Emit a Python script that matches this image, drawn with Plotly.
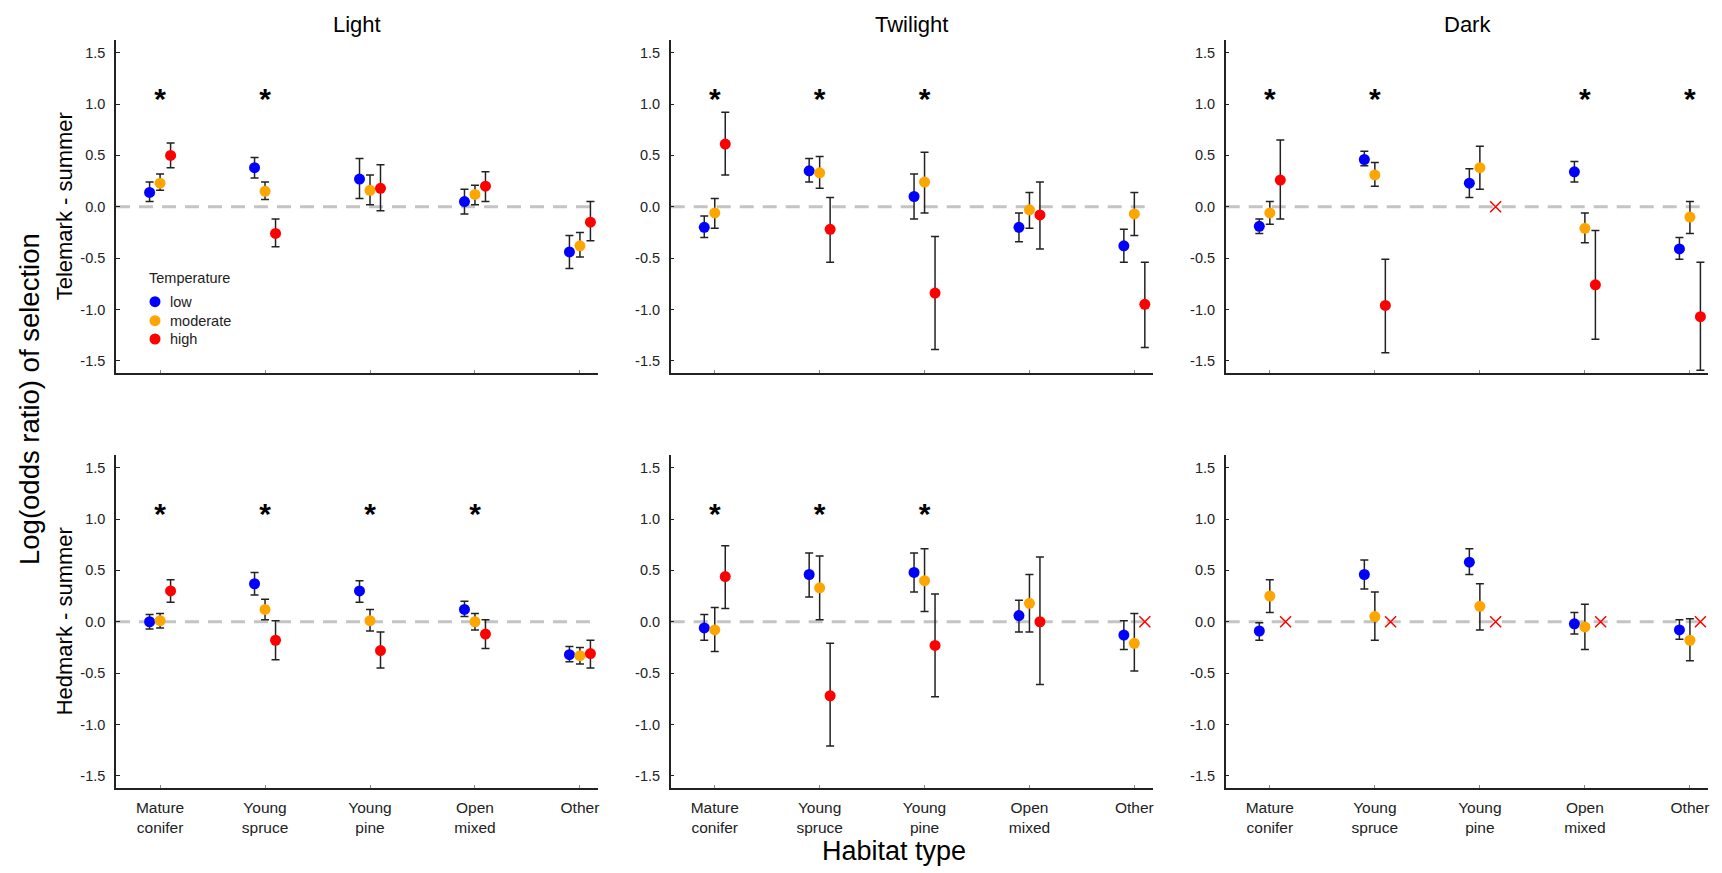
import plotly.graph_objects as go

# ---------------- data ----------------
categories = ["Mature<br>conifer", "Young<br>spruce", "Young<br>pine", "Open<br>mixed", "Other"]
light_levels = ["Light", "Twilight", "Dark"]
regions = ["Telemark - summer", "Hedmark - summer"]
temperatures = ["low", "moderate", "high"]
temp_colors = ["#0000ff", "#ffa500", "#ff0000"]
y_tick_vals = [-1.5, -1.0, -0.5, 0.0, 0.5, 1.0, 1.5]
y_tick_text = ["-1.5", "-1.0", "-0.5", "0.0", "0.5", "1.0", "1.5"]

# Telemark - Light
tel_light_low = [0.14, 0.38, 0.27, 0.05, -0.44]
tel_light_low_hi = [0.24, 0.48, 0.47, 0.17, -0.28]
tel_light_low_lo = [0.05, 0.28, 0.08, -0.07, -0.60]
tel_light_mod = [0.23, 0.15, 0.16, 0.12, -0.38]
tel_light_mod_hi = [0.32, 0.24, 0.31, 0.21, -0.25]
tel_light_mod_lo = [0.16, 0.07, 0.02, 0.02, -0.49]
tel_light_high = [0.50, -0.26, 0.18, 0.20, -0.15]
tel_light_high_hi = [0.62, -0.12, 0.41, 0.34, 0.05]
tel_light_high_lo = [0.38, -0.39, -0.04, 0.05, -0.33]
tel_light_sig = [1, 1, 0, 0, 0]

# Telemark - Twilight
tel_twi_low = [-0.20, 0.35, 0.10, -0.20, -0.38]
tel_twi_low_hi = [-0.09, 0.47, 0.32, -0.06, -0.22]
tel_twi_low_lo = [-0.30, 0.24, -0.12, -0.34, -0.54]
tel_twi_mod = [-0.06, 0.33, 0.24, -0.03, -0.07]
tel_twi_mod_hi = [0.08, 0.49, 0.53, 0.14, 0.14]
tel_twi_mod_lo = [-0.21, 0.18, -0.06, -0.21, -0.28]
tel_twi_high = [0.61, -0.22, -0.84, -0.08, -0.95]
tel_twi_high_hi = [0.92, 0.09, -0.29, 0.24, -0.54]
tel_twi_high_lo = [0.31, -0.54, -1.39, -0.41, -1.37]
tel_twi_sig = [1, 1, 1, 0, 0]

# Telemark - Dark
tel_dark_low = [-0.19, 0.46, 0.23, 0.34, -0.41]
tel_dark_low_hi = [-0.12, 0.54, 0.37, 0.44, -0.30]
tel_dark_low_lo = [-0.26, 0.40, 0.09, 0.24, -0.51]
tel_dark_mod = [-0.06, 0.31, 0.38, -0.21, -0.10]
tel_dark_mod_hi = [0.05, 0.43, 0.59, -0.06, 0.05]
tel_dark_mod_lo = [-0.17, 0.20, 0.17, -0.35, -0.26]
tel_dark_high = [0.26, -0.96, None, -0.76, -1.07]
tel_dark_high_hi = [0.65, -0.51, None, -0.23, -0.54]
tel_dark_high_lo = [-0.12, -1.42, None, -1.29, -1.59]
tel_dark_sig = [1, 1, 0, 1, 1]

# Hedmark - Light
hed_light_low = [0.00, 0.37, 0.30, 0.12, -0.32]
hed_light_low_hi = [0.07, 0.48, 0.40, 0.20, -0.24]
hed_light_low_lo = [-0.07, 0.26, 0.19, 0.05, -0.39]
hed_light_mod = [0.01, 0.12, 0.01, 0.00, -0.33]
hed_light_mod_hi = [0.08, 0.22, 0.12, 0.08, -0.25]
hed_light_mod_lo = [-0.06, 0.02, -0.09, -0.08, -0.41]
hed_light_high = [0.30, -0.18, -0.28, -0.12, -0.31]
hed_light_high_hi = [0.41, 0.01, -0.10, 0.02, -0.18]
hed_light_high_lo = [0.19, -0.37, -0.45, -0.26, -0.45]
hed_light_sig = [1, 1, 1, 1, 0]

# Hedmark - Twilight
hed_twi_low = [-0.06, 0.46, 0.48, 0.06, -0.13]
hed_twi_low_hi = [0.07, 0.67, 0.67, 0.21, 0.01]
hed_twi_low_lo = [-0.18, 0.24, 0.29, -0.10, -0.27]
hed_twi_mod = [-0.08, 0.33, 0.40, 0.18, -0.21]
hed_twi_mod_hi = [0.14, 0.64, 0.71, 0.46, 0.08]
hed_twi_mod_lo = [-0.29, 0.02, 0.10, -0.10, -0.48]
hed_twi_high = [0.44, -0.72, -0.23, 0.00, None]
hed_twi_high_hi = [0.74, -0.21, 0.27, 0.63, None]
hed_twi_high_lo = [0.13, -1.21, -0.73, -0.61, None]
hed_twi_sig = [1, 1, 1, 0, 0]

# Hedmark - Dark
hed_dark_low = [-0.09, 0.46, 0.58, -0.02, -0.08]
hed_dark_low_hi = [-0.01, 0.60, 0.71, 0.09, 0.02]
hed_dark_low_lo = [-0.18, 0.32, 0.46, -0.12, -0.17]
hed_dark_mod = [0.25, 0.05, 0.15, -0.05, -0.18]
hed_dark_mod_hi = [0.41, 0.29, 0.37, 0.17, 0.03]
hed_dark_mod_lo = [0.09, -0.18, -0.08, -0.27, -0.38]
hed_dark_high = [None, None, None, None, None]
hed_dark_high_hi = [None, None, None, None, None]
hed_dark_high_lo = [None, None, None, None, None]
hed_dark_sig = [0, 0, 0, 0, 0]

panels = [
    [(tel_light_low, tel_light_low_hi, tel_light_low_lo),
     (tel_light_mod, tel_light_mod_hi, tel_light_mod_lo),
     (tel_light_high, tel_light_high_hi, tel_light_high_lo), tel_light_sig],
    [(tel_twi_low, tel_twi_low_hi, tel_twi_low_lo),
     (tel_twi_mod, tel_twi_mod_hi, tel_twi_mod_lo),
     (tel_twi_high, tel_twi_high_hi, tel_twi_high_lo), tel_twi_sig],
    [(tel_dark_low, tel_dark_low_hi, tel_dark_low_lo),
     (tel_dark_mod, tel_dark_mod_hi, tel_dark_mod_lo),
     (tel_dark_high, tel_dark_high_hi, tel_dark_high_lo), tel_dark_sig],
    [(hed_light_low, hed_light_low_hi, hed_light_low_lo),
     (hed_light_mod, hed_light_mod_hi, hed_light_mod_lo),
     (hed_light_high, hed_light_high_hi, hed_light_high_lo), hed_light_sig],
    [(hed_twi_low, hed_twi_low_hi, hed_twi_low_lo),
     (hed_twi_mod, hed_twi_mod_hi, hed_twi_mod_lo),
     (hed_twi_high, hed_twi_high_hi, hed_twi_high_lo), hed_twi_sig],
    [(hed_dark_low, hed_dark_low_hi, hed_dark_low_lo),
     (hed_dark_mod, hed_dark_mod_hi, hed_dark_mod_lo),
     (hed_dark_high, hed_dark_high_hi, hed_dark_high_lo), hed_dark_sig],
]

# ---------------- layout geometry (screen pixels) ----------------
W, H = 1722, 873
OFF = 8  # page body margin
FONT = "Liberation Sans, Arial, sans-serif"
AX = "#222222"


def px(x):
    return (x - OFF) / W


def py(y):
    return 1 - (y - OFF) / H


col_px = [(116, 598.3), (670.7, 1152.7), (1225.7, 1708.3)]
row_px = [(40, 372.7), (455, 787.7)]
x_range = [-0.42, 4.175]
y_range = [-1.615, 1.623]
offsets = [-0.1, 0.0, 0.1]
missing_offset = 0.15
star_y = 1.02

fig = go.Figure()
layout_axes = {}
shapes = []

for p, (low, mod, high, sig) in enumerate(panels):
    r, c = divmod(p, 3)
    n = p + 1
    xa = "x" if n == 1 else f"x{n}"
    ya = "y" if n == 1 else f"y{n}"
    xd = [px(col_px[c][0]), px(col_px[c][1])]
    yd = [py(row_px[r][1]), py(row_px[r][0])]

    layout_axes["xaxis" if n == 1 else f"xaxis{n}"] = dict(
        domain=xd, anchor=ya, range=x_range,
        tickmode="array", tickvals=list(range(len(categories))),
        ticktext=categories, showticklabels=(r == 1),
        ticks="inside", ticklen=3, tickcolor="#888", tickwidth=1,
        showline=True, linecolor=AX, linewidth=1.5,
        showgrid=False, zeroline=False, ticklabelstandoff=5,
        tickfont=dict(family=FONT, size=15.5, color=AX),
    )
    layout_axes["yaxis" if n == 1 else f"yaxis{n}"] = dict(
        domain=yd, anchor=xa, range=y_range,
        tickmode="array", tickvals=y_tick_vals, ticktext=y_tick_text,
        ticks="inside", ticklen=4, tickcolor=AX, tickwidth=1,
        showline=True, linecolor=AX, linewidth=1.5,
        showgrid=False, zeroline=False, ticklabelstandoff=6,
        tickfont=dict(family=FONT, size=14.5, color=AX),
    )

    shapes.append(dict(
        type="line", xref=f"{xa} domain", yref=ya, x0=0, x1=1, y0=0, y1=0,
        line=dict(color="#c4c4c4", width=3, dash="14px,9px"), layer="below"))

    for k, (est, hi, lo) in enumerate((low, mod, high)):
        xs, ys, up, dn, mx = [], [], [], [], []
        for i, v in enumerate(est):
            if v is None:
                mx.append(min(i + missing_offset, len(categories) - 1 + 0.1))
                continue
            xs.append(i + offsets[k])
            ys.append(v)
            up.append(hi[i] - v)
            dn.append(v - lo[i])
        fig.add_trace(go.Scatter(
            x=xs, y=ys, mode="markers", xaxis=xa, yaxis=ya,
            name=temperatures[k], showlegend=False,
            marker=dict(color=temp_colors[k], size=11, line=dict(width=0)),
            error_y=dict(type="data", symmetric=False, array=up, arrayminus=dn,
                         color=AX, thickness=1.5, width=4),
        ))
        if mx:
            fig.add_trace(go.Scatter(
                x=mx, y=[0] * len(mx), mode="markers", xaxis=xa, yaxis=ya,
                showlegend=False,
                marker=dict(symbol="x-thin", size=11,
                            line=dict(color=temp_colors[k], width=1.5)),
            ))

    sx = [i for i, s in enumerate(sig) if s]
    if sx:
        fig.add_trace(go.Scatter(
            x=sx, y=[star_y] * len(sx), mode="text", text=["*"] * len(sx),
            xaxis=xa, yaxis=ya, showlegend=False, hoverinfo="skip",
            textfont=dict(family=FONT, size=30, color="black", weight="bold"),
        ))

annotations = []
for c, name in enumerate(light_levels):
    annotations.append(dict(
        text=name, xref="paper", yref="paper",
        x=px((col_px[c][0] + col_px[c][1]) / 2), y=py(24),
        showarrow=False, xanchor="center", yanchor="middle",
        font=dict(family=FONT, size=22, color="black")))
for r, name in enumerate(regions):
    annotations.append(dict(
        text=name, xref="paper", yref="paper", textangle=-90,
        x=px(64), y=py((row_px[r][0] + row_px[r][1]) / 2),
        showarrow=False, xanchor="center", yanchor="middle",
        font=dict(family=FONT, size=22, color="black")))
annotations.append(dict(
    text="Log(odds ratio) of selection", xref="paper", yref="paper",
    textangle=-90, x=px(30), y=py(399), showarrow=False,
    xanchor="center", yanchor="middle",
    font=dict(family=FONT, size=27.5, color="black")))
annotations.append(dict(
    text="Habitat type", xref="paper", yref="paper",
    x=px(894), y=py(851), showarrow=False,
    xanchor="center", yanchor="middle",
    font=dict(family=FONT, size=27, color="black")))

# manual legend (inside the Light / Telemark panel)
legend_title_y = 278
legend_item_y = [301.7, 320.7, 339.0]
annotations.append(dict(
    text="Temperature", xref="paper", yref="paper",
    x=px(147), y=py(legend_title_y), showarrow=False,
    xanchor="left", yanchor="middle",
    font=dict(family=FONT, size=14.5, color=AX)))
for k, name in enumerate(temperatures):
    cy = legend_item_y[k]
    shapes.append(dict(
        type="circle", xref="paper", yref="paper",
        x0=px(155 - 5.5), x1=px(155 + 5.5), y0=py(cy + 5.5), y1=py(cy - 5.5),
        fillcolor=temp_colors[k], line=dict(width=0)))
    annotations.append(dict(
        text=name, xref="paper", yref="paper",
        x=px(168), y=py(cy), showarrow=False,
        xanchor="left", yanchor="middle",
        font=dict(family=FONT, size=14.5, color=AX)))

fig.update_layout(
    width=W, height=H,
    margin=dict(l=0, r=0, t=0, b=0),
    paper_bgcolor="white", plot_bgcolor="white",
    font=dict(family=FONT, color="black"),
    shapes=shapes, annotations=annotations,
    showlegend=False,
    **layout_axes,
)

fig.write_html("out.html")
